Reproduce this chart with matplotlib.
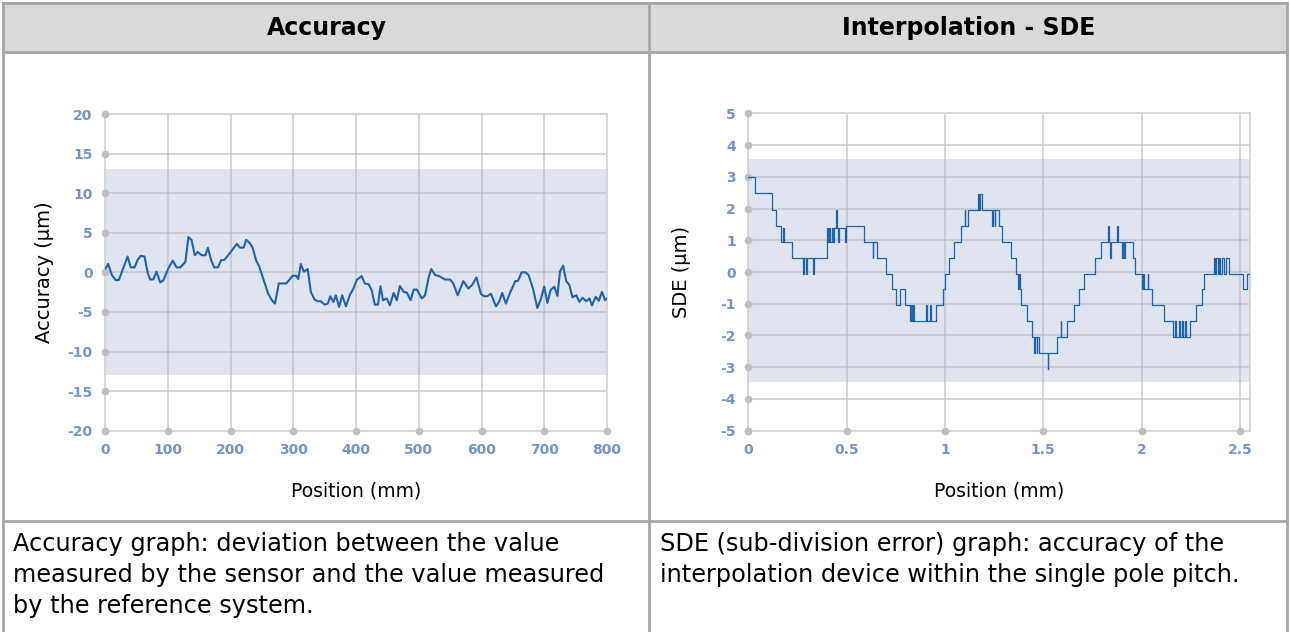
import matplotlib
matplotlib.use("Agg")
import matplotlib.pyplot as plt
from matplotlib.patches import Rectangle
from matplotlib.lines import Line2D

# ---------------------------------------------------------------------------
# data
# ---------------------------------------------------------------------------
acc_pos = [1, 5, 11, 17, 22, 28, 36, 41, 47, 52, 57, 63, 68, 72, 77, 82, 88, 93,
           101, 108, 114, 120, 128, 133, 138, 143, 148, 154, 160, 164, 169, 174,
           180, 185, 190, 199, 210, 215, 221, 225, 230, 235, 241, 246, 252, 260,
           266, 271, 277, 284, 289, 299, 305, 308, 312, 317, 323, 328, 334, 339,
           344, 350, 355, 359, 364, 368, 373, 378, 384, 390, 396, 401, 409, 414,
           420, 425, 430, 435, 439, 443, 449, 454, 460, 465, 470, 476, 481, 487,
           492, 497, 505, 510, 516, 520, 526, 531, 542, 550, 555, 562, 571, 579,
           585, 592, 599, 604, 609, 615, 623, 628, 633, 639, 646, 654, 658, 664,
           670, 675, 682, 689, 694, 700, 705, 710, 716, 721, 725, 730, 735, 740,
           745, 751, 756, 761, 767, 772, 776, 782, 787, 792, 797, 800]
acc_val = [0.5, 1.06, -0.34, -0.98, -0.98, 0.29, 2.0, 0.63, 0.63, 1.57, 2.08,
           2.0, -0.05, -0.9, -0.9, 0.08, -1.28, -1.0, 0.5, 1.48, 0.63, 0.63, 1.3,
           4.45, 4.1, 2.16, 2.58, 2.16, 2.16, 3.1, 1.57, 0.63, 0.63, 1.53, 1.57,
           2.42, 3.6, 3.13, 3.13, 4.1, 3.77, 3.18, 1.48, 0.71, -0.77, -2.68,
           -3.53, -3.95, -1.4, -1.4, -1.4, -0.43, -0.43, -0.86, 1.06, 0.08, 0.42,
           -2.47, -3.44, -3.65, -3.65, -4.08, -3.95, -3.02, -3.74, -2.9, -4.38,
           -2.9, -4.3, -2.9, -2.04, -0.98, -0.47, -1.4, -1.5, -2.25, -4.08,
           -4.08, -1.75, -3.53, -3.3, -4.17, -2.6, -3.53, -1.72, -2.47, -2.55,
           -3.53, -2.17, -2.17, -3.3, -2.9, -0.56, 0.42, -0.34, -0.43, -0.9,
           -0.9, -1.4, -2.9, -1.1, -2.04, -1.6, -0.65, -2.7, -3.02, -3.02, -2.7,
           -4.3, -3.74, -2.6, -3.95, -2.47, -1.1, -1.1, 0.0, 0.0, -0.34, -2.04,
           -4.5, -3.53, -1.8, -3.87, -2.25, -1.8, -2.98, 0.08, 0.85, -1.1, -1.6,
           -3.15, -2.9, -3.74, -3.2, -3.65, -3.3, -4.17, -3.1, -3.6, -2.47,
           -3.53, -3.3]

# SDE: step data, (position, level) held until the next position
sde_pos = [0.000, 0.036, 0.120, 0.140, 0.168, 0.176, 0.180, 0.222, 0.280, 0.285,
           0.292, 0.297, 0.330, 0.335, 0.400, 0.404, 0.410, 0.414, 0.425, 0.430,
           0.438, 0.446, 0.450, 0.455, 0.460, 0.492, 0.496, 0.590, 0.632, 0.636,
           0.652, 0.700, 0.730, 0.752, 0.770, 0.795, 0.820, 0.826, 0.830, 0.836,
           0.840, 0.905, 0.910, 0.922, 0.928, 0.952, 0.988, 0.998, 1.020, 1.046,
           1.080, 1.100, 1.104, 1.118, 1.168, 1.174, 1.178, 1.186, 1.240, 1.244,
           1.252, 1.256, 1.276, 1.290, 1.336, 1.360, 1.370, 1.374, 1.380, 1.388,
           1.418, 1.445, 1.455, 1.460, 1.466, 1.470, 1.476, 1.522, 1.526, 1.572,
           1.588, 1.592, 1.620, 1.655, 1.684, 1.706, 1.762, 1.795, 1.828, 1.832,
           1.838, 1.842, 1.874, 1.878, 1.900, 1.904, 1.912, 1.916, 1.958, 1.968,
           2.002, 2.008, 2.012, 2.030, 2.034, 2.055, 2.115, 2.158, 2.170, 2.176,
           2.190, 2.196, 2.206, 2.212, 2.222, 2.228, 2.248, 2.275, 2.305, 2.315,
           2.368, 2.372, 2.378, 2.386, 2.392, 2.400, 2.410, 2.418, 2.430, 2.444,
           2.513, 2.535, 2.545]
sde_val = [3.00, 2.50, 1.95, 1.45, 0.95, 1.40, 0.95, 0.45, -0.05, 0.45,
           -0.05, 0.45, -0.05, 0.45, 1.40, 0.95, 1.40, 0.95, 1.40, 0.95,
           1.40, 1.95, 1.40, 0.95, 1.40, 0.95, 1.45, 0.95, 0.45, 0.95,
           0.45, -0.05, -0.55, -1.05, -0.55, -1.05, -1.55, -1.05, -1.55, -1.05,
           -1.55, -1.05, -1.55, -1.05, -1.55, -1.05, -0.55, -0.05, 0.45, 0.95,
           1.45, 1.95, 1.45, 1.95, 2.45, 1.95, 2.45, 1.95, 1.45, 1.95,
           1.45, 1.95, 1.45, 0.95, 0.45, -0.05, -0.55, -0.05, -0.55, -1.05,
           -1.55, -2.05, -2.55, -2.05, -2.55, -2.05, -2.55, -3.05, -2.55, -2.05,
           -1.55, -2.05, -1.55, -1.05, -0.55, -0.05, 0.45, 0.95, 1.45, 0.95,
           0.45, 0.95, 1.45, 0.95, 0.45, 0.95, 0.45, 0.95, 0.45, -0.05,
           -0.55, -0.05, -0.55, -0.05, -0.55, -1.05, -1.55, -2.05, -1.55, -2.05,
           -1.55, -2.05, -1.55, -2.05, -1.55, -2.05, -1.55, -1.05, -0.55, -0.05,
           0.45, -0.05, 0.45, -0.05, 0.45, -0.05, 0.45, -0.05, 0.45, -0.05,
           -0.55, -0.05, -0.05]

acc_ticks_x = [0, 100, 200, 300, 400, 500, 600, 700, 800]
acc_ticks_y = [-20, -15, -10, -5, 0, 5, 10, 15, 20]
sde_ticks_x = [0, 0.5, 1, 1.5, 2, 2.5]
sde_ticks_y = [-5, -4, -3, -2, -1, 0, 1, 2, 3, 4, 5]
acc_band = (-13, 13)
sde_band = (-3.45, 3.55)

headers = ["Accuracy", "Interpolation - SDE"]
captions = ["Accuracy graph: deviation between the value\n"
            "measured by the sensor and the value measured\n"
            "by the reference system.",
            "SDE (sub-division error) graph: accuracy of the\n"
            "interpolation device within the single pole pitch."]

# ---------------------------------------------------------------------------
W, H = 1290, 632
fig = plt.figure(figsize=(W / 100, H / 100), dpi=100)
plt.rcParams['font.family'] = ['DejaVu Sans']


def fx(px):
    return px / W


def fy(py):
    return 1 - py / H


BORDER = "#a6a6a6"
TICK_COL = "#7393cf"
LINE_COL = "#2063ad"
GRID_COL = "#bdbdc4"
BAND_COL = "#e0e4f0"

# table: header fill + borders
fig.add_artist(Rectangle((fx(3), fy(52)), fx(1284), 50 / H, transform=fig.transFigure,
                         facecolor="#d9d9d9", edgecolor="none", zorder=0))
for yy in [3, 52, 521]:
    fig.add_artist(Line2D([fx(3), fx(1287)], [fy(yy), fy(yy)], transform=fig.transFigure,
                          color=BORDER, lw=2))
for xx in [3, 649, 1287]:
    fig.add_artist(Line2D([fx(xx), fx(xx)], [fy(3), fy(632)], transform=fig.transFigure,
                          color=BORDER, lw=2))

fig.text(fx(327), fy(28), headers[0], ha="center", va="center", fontsize=17,
         fontweight="bold")
fig.text(fx(969), fy(28), headers[1], ha="center", va="center", fontsize=17,
         fontweight="bold")
fig.text(fx(13), fy(532), captions[0], ha="left", va="top", fontsize=17.3, linespacing=1.36)
fig.text(fx(660), fy(532), captions[1], ha="left", va="top", fontsize=17.3, linespacing=1.36)


def style_axes(ax, xt, yt, xlim, ylim, band, xlabel, ylabel, xfmt, ylab_x):
    ax.axhspan(band[0], band[1], color=BAND_COL, zorder=0, lw=0)
    ax.set_xlim(*xlim)
    ax.set_ylim(*ylim)
    ax.set_xticks(xt)
    ax.set_yticks(yt)
    ax.set_xticklabels([xfmt(v) for v in xt])
    ax.set_yticklabels([str(v) for v in yt])
    ax.grid(True, color=GRID_COL, lw=1.1, alpha=0.8, zorder=1)
    ax.set_axisbelow(True)
    for s in ax.spines.values():
        s.set_color("#d4d4d4")
        s.set_linewidth(1.2)
    ax.tick_params(length=0, labelsize=10, labelcolor=TICK_COL, pad=9)
    for lab in ax.get_xticklabels() + ax.get_yticklabels():
        lab.set_fontweight("bold")
    # gray dots at the tick positions
    ax.scatter([xlim[0]] * len(yt), yt, s=20, color="#bfbfbf", clip_on=False, zorder=3)
    ax.scatter(xt, [ylim[0]] * len(xt), s=20, color="#bfbfbf", clip_on=False, zorder=3)
    ax.set_xlabel(xlabel, fontsize=13.5)
    ax.set_ylabel(ylabel, fontsize=14)
    ax.xaxis.set_label_coords(0.5, -0.19)
    ax.yaxis.set_label_coords(ylab_x, 0.5)
    ax.xaxis.label.set_va("center")
    ax.yaxis.label.set_va("center")


ax1 = fig.add_axes([fx(105), fy(430.7), fx(502), (430.7 - 114) / H])
ax1.plot(acc_pos, acc_val, color=LINE_COL, lw=1.5, zorder=4)
style_axes(ax1, acc_ticks_x, acc_ticks_y, (0, 800), (-20, 20), acc_band,
           "Position (mm)", "Accuracy (µm)", lambda v: str(v), (44 - 105) / 502)

ax2 = fig.add_axes([fx(748.3), fy(430.7), fx(501.7), (430.7 - 113.3) / H])
ax2.plot(sde_pos, sde_val, color=LINE_COL, lw=0.9, drawstyle="steps-post", zorder=4)
style_axes(ax2, sde_ticks_x, sde_ticks_y, (0, 2.551), (-5, 5), sde_band,
           "Position (mm)", "SDE (µm)", lambda v: ("%g" % v), (681 - 748.3) / 501.7)

fig.savefig("out.png", dpi=100)
